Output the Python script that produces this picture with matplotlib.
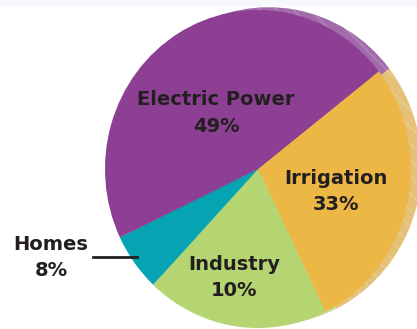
import matplotlib
matplotlib.use("Agg")
import matplotlib.pyplot as plt
from matplotlib.patches import Rectangle

# wedge shares as drawn (clockwise from the Electric/Irrigation edge)
sectors = ["Irrigation", "Industry", "Homes", "Electric Power"]
shares = [28.3, 19.3, 5.9, 46.6]
pct_labels = ["33%", "10%", "8%", "49%"]
colors = ["#edb746", "#b5d572", "#06a4b3", "#8c3f93"]
shadow_colors = ["#e5c178", "#c6dd95", "#4ab8c3", "#a26bab"]

W, H = 417, 329
fig = plt.figure(figsize=(W / 100, H / 100), dpi=100)
ax = fig.add_axes([0, 0, 1, 1])

# pie center and radii in pixels (slightly taller than wide)
cx, cy, rx, ry = 258, 169, 153, 159
dx, dy = 10.5 / rx, 2.8 / ry

# extruded edge, drawn behind
sh, _ = ax.pie(shares, colors=shadow_colors, startangle=37.9, counterclock=False,
               center=(dx, dy), wedgeprops=dict(linewidth=0))
for w in sh:
    w.set_hatch("\\\\")
    w.set_edgecolor((1, 1, 1, 0.18))
    w.set_linewidth(0)

ax.pie(shares, colors=colors, startangle=37.9, counterclock=False,
       wedgeprops=dict(linewidth=0))

ax.set_aspect("auto")
ax.set_xlim(-cx / rx, (W - cx) / rx)
ax.set_ylim(-(H - cy) / ry, cy / ry)
ax.axis("off")

# faint band at the top of the image
fig.patches.append(Rectangle((0, 1 - 5 / H), 1, 5 / H, transform=fig.transFigure,
                             color="#f7f8fb", zorder=-1))


def put(x, y, s):
    fig.text(x / W, 1 - y / H, s, fontsize=14, fontweight="bold", color="#231f20",
             ha="center", va="center", family="DejaVu Sans")


put(216, 100, sectors[3])
put(216, 126, pct_labels[3])
put(336, 178, sectors[0])
put(336, 204, pct_labels[0])
put(234, 265, sectors[1])
put(234, 291, pct_labels[1])
put(51, 245, sectors[2])
put(51, 271, pct_labels[2])

# leader line for Homes
fig.add_artist(plt.Line2D([93 / W, 137 / W], [1 - 257 / H, 1 - 257 / H],
                          color="#231f20", lw=2))

fig.savefig("out.png", dpi=100)
